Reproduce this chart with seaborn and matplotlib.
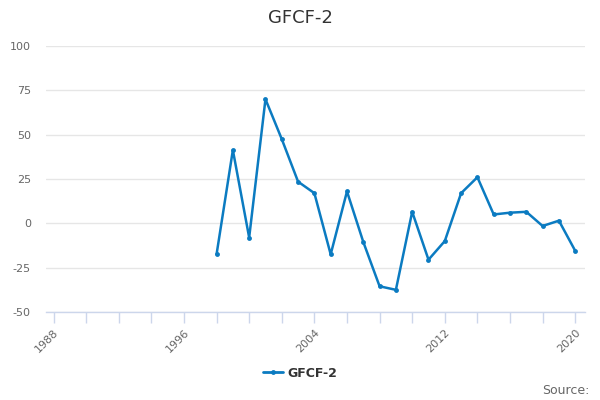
import matplotlib
matplotlib.use("Agg")
import matplotlib.pyplot as plt
import seaborn as sns
import pandas as pd
from matplotlib.lines import Line2D

years = list(range(1998, 2021))
values = [-17.5, 41.3, -8, 70, 47.5, 23.5, 17, -17.5, 18, -10.5, -35.5, -37.5,
          6.5, -20.5, -10, 17, 26, 5, 6, 6.5, -1.5, 1.5, -15.5]
series_name = "GFCF-2"
y_ticks = [-50, -25, 0, 25, 50, 75, 100]
x_label_years = [1988, 1996, 2004, 2012, 2020]

df = pd.DataFrame({"year": years, "value": values, "series": series_name})

sns.set_theme(style="white")
plt.rcParams['font.family'] = ['DejaVu Sans']

fig = plt.figure(figsize=(6, 4), dpi=100)
ax = fig.add_axes([0.077, 0.22, 0.898, 0.665])

color = "#0b7bc1"
sns.lineplot(data=df, x="year", y="value", hue="series", palette=[color],
             marker="o", markersize=3.5, markeredgewidth=0, linewidth=1.8,
             ax=ax, legend=False)

ax.set_xlim(1987.55, 2020.6)
ax.set_ylim(-50, 100)
ax.set_yticks(y_ticks)
ax.set_yticklabels([str(v) for v in y_ticks], color="#666666", fontsize=8)
ax.set_xticks(list(range(1988, 2021, 2)))
ax.set_xticklabels([str(y) if y in x_label_years else "" for y in range(1988, 2021, 2)],
                   rotation=45, ha="right", rotation_mode="anchor",
                   color="#666666", fontsize=8)
ax.tick_params(axis="x", length=8, width=1, color="#ccd6eb", pad=3, direction="out", bottom=True)
ax.tick_params(axis="y", length=0, pad=11)
ax.grid(axis="y", color="#e6e6e6", linewidth=1)
ax.set_axisbelow(True)
for s in ["top", "right", "left"]:
    ax.spines[s].set_visible(False)
ax.spines["bottom"].set_color("#ccd6eb")
ax.spines["bottom"].set_linewidth(1)
ax.set_xlabel("")
ax.set_ylabel("")

fig.text(0.5, 0.955, "GFCF-2", ha="center", va="center", fontsize=13, color="#333333")

h = Line2D([0], [0], color=color, linewidth=2, marker="o", markersize=3.5, markeredgewidth=0)
fig.legend([h], [series_name], loc="center", bbox_to_anchor=(0.5, 0.067), frameon=False,
           prop={"weight": "bold", "size": 9}, labelcolor="#333333", handlelength=1.6,
           handletextpad=0.4)

fig.text(0.983, 0.025, "Source:", ha="right", va="center", fontsize=9, color="#666666")

fig.savefig("out.png", dpi=100, facecolor="white")
